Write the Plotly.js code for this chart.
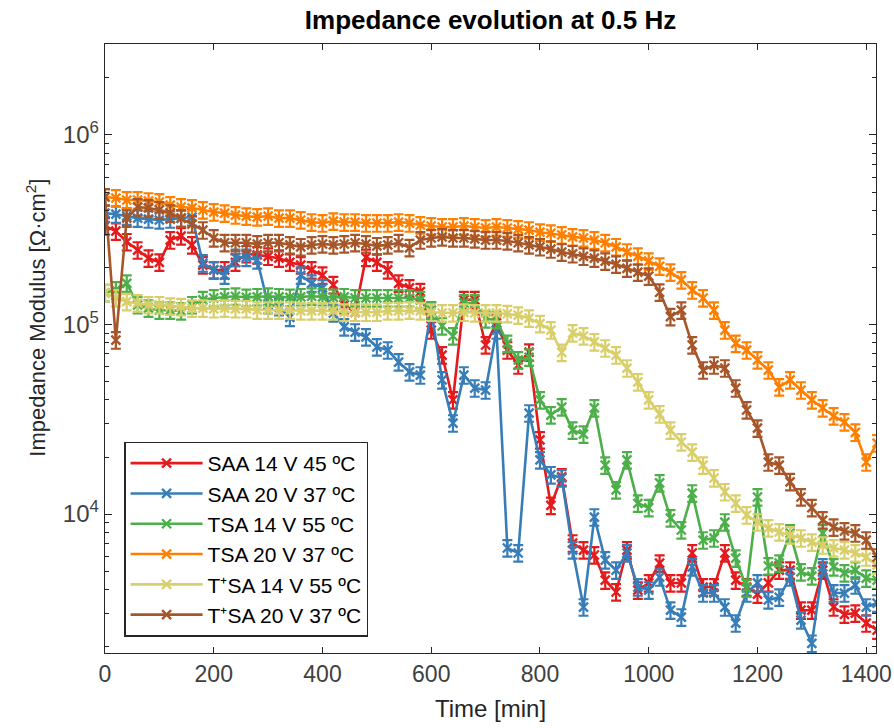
<!DOCTYPE html>
<html>
<head>
<meta charset="utf-8">
<script src="https://cdn.plot.ly/plotly-3.0.1.min.js"></script>
<style>html,body{margin:0;padding:0;background:#fff;}#chart{width:894px;height:728px;}</style>
</head>
<body>
<div id="chart"></div>
<script>
const time = [0,20,40,60,80,100,120,140,160,180,200,220,240,260,280,300,320,340,360,380,
  400,420,440,460,480,500,520,540,560,580,600,620,640,660,680,700,720,740,760,780,
  800,820,840,860,880,900,920,940,960,980,1000,1020,1040,1060,1080,1100,1120,1140,1160,1180,
  1200,1220,1240,1260,1280,1300,1320,1340,1360,1380,1400,1420];

const names = ["SAA 14 V 45 ºC","SAA 20 V 37 ºC","TSA 14 V 55 ºC","TSA 20 V 37 ºC","T\u207aSA 14 V 55 ºC","T\u207aSA 20 V 37 ºC"];
const colors = ["#e41a1c","#377eb8","#4daf4a","#ff7f00","#d9cf6a","#a65628"];

const saa14 = [3.31e5,3.11e5,2.73e5,2.47e5,2.24e5,2.13e5,2.79e5,2.93e5,2.63e5,2.06e5,
  1.94e5,1.94e5,2.13e5,2.36e5,2.33e5,2.29e5,2.24e5,2.13e5,2.06e5,1.94e5,
  1.82e5,1.62e5,1.27e5,1.16e5,2.26e5,2.13e5,1.94e5,1.65e5,1.56e5,1.49e5,
  9.35e4,6.90e4,4.00e4,1.35e5,1.35e5,7.80e4,1.02e5,7.33e4,6.11e4,7.15e4,
  2.46e4,1.11e4,1.57e4,7.03e3,6.46e3,6.08e3,4.48e3,3.88e3,6.46e3,3.97e3,
  4.33e3,5.51e3,4.33e3,4.33e3,6.23e3,4.12e3,4.12e3,6.23e3,4.48e3,4.12e3,
  3.78e3,4.33e3,5.06e3,5.06e3,3.11e3,3.11e3,5.06e3,3.23e3,2.96e3,3.00e3,
  2.66e3,2.44e3];

const saa20 = [3.87e5,3.82e5,3.73e5,3.64e5,3.60e5,3.56e5,3.60e5,3.64e5,3.69e5,2.11e5,
  1.94e5,1.82e5,2.26e5,2.26e5,2.19e5,1.27e5,1.24e5,1.09e5,1.82e5,1.65e5,
  1.56e5,1.15e5,9.71e4,9.12e4,8.60e4,7.61e4,7.33e4,6.34e4,5.62e4,5.41e4,
  1.19e5,5.10e4,3.02e4,5.41e4,4.62e4,4.51e4,9.35e4,6.62e3,6.23e3,3.41e4,
  1.93e4,1.61e4,1.55e4,6.46e3,3.23e3,9.64e3,5.72e3,5.06e3,6.23e3,4.12e3,
  3.97e3,4.65e3,3.11e3,2.86e3,5.26e3,3.83e3,3.83e3,3.23e3,2.66e3,3.83e3,
  4.33e3,3.52e3,3.64e3,4.65e3,2.76e3,2.08e3,5.26e3,3.83e3,3.83e3,4.22e3,
  3.23e3,3.39e3];

const tsa14 = [1.47e5,1.52e5,1.65e5,1.27e5,1.22e5,1.19e5,1.19e5,1.18e5,1.27e5,1.35e5,
  1.38e5,1.40e5,1.41e5,1.39e5,1.40e5,1.41e5,1.40e5,1.39e5,1.40e5,1.41e5,
  1.40e5,1.39e5,1.40e5,1.38e5,1.38e5,1.38e5,1.38e5,1.38e5,1.38e5,1.35e5,
  1.19e5,9.82e4,8.70e4,1.30e5,1.30e5,1.07e5,1.06e5,7.95e4,6.50e4,6.72e4,
  4.00e4,3.33e4,3.67e4,2.77e4,2.64e4,3.63e4,1.81e4,1.34e4,1.93e4,1.14e4,
  1.08e4,1.46e4,9.53e3,8.24e3,1.29e4,7.29e3,7.47e3,9.07e3,5.85e3,4.07e3,
  1.23e4,5.32e3,5.51e3,7.94e3,4.95e3,4.71e3,7.94e3,5.26e3,4.89e3,5.06e3,
  4.59e3,4.48e3];

const tsa20 = [4.71e5,4.65e5,4.54e5,4.54e5,4.48e5,4.43e5,4.27e5,4.17e5,4.12e5,4.02e5,
  3.92e5,3.87e5,3.78e5,3.73e5,3.69e5,3.73e5,3.64e5,3.64e5,3.56e5,3.47e5,
  3.43e5,3.51e5,3.47e5,3.47e5,3.43e5,3.43e5,3.43e5,3.47e5,3.43e5,3.35e5,
  3.31e5,3.27e5,3.27e5,3.31e5,3.27e5,3.23e5,3.27e5,3.23e5,3.19e5,3.15e5,
  3.07e5,3.03e5,2.97e5,2.90e5,2.86e5,2.79e5,2.70e5,2.57e5,2.41e5,2.29e5,
  2.16e5,2.03e5,1.89e5,1.72e5,1.52e5,1.38e5,1.19e5,9.35e4,7.95e4,7.33e4,
  6.50e4,5.75e4,4.68e4,5.10e4,4.51e4,4.00e4,3.63e4,3.29e4,3.06e4,2.70e4,
  1.88e4,2.37e4];

const tpsa14 = [1.47e5,1.38e5,1.32e5,1.30e5,1.27e5,1.27e5,1.25e5,1.24e5,1.22e5,1.22e5,
  1.21e5,1.22e5,1.21e5,1.21e5,1.19e5,1.19e5,1.19e5,1.19e5,1.18e5,1.18e5,
  1.18e5,1.18e5,1.16e5,1.16e5,1.16e5,1.16e5,1.18e5,1.18e5,1.19e5,1.18e5,
  1.16e5,1.15e5,1.15e5,1.16e5,1.15e5,1.15e5,1.15e5,1.14e5,1.12e5,1.08e5,
  1.01e5,9.35e4,7.12e4,9.02e4,8.70e4,8.10e4,7.51e4,6.90e4,5.89e4,4.98e4,
  4.00e4,3.37e4,2.77e4,2.40e4,2.12e4,1.81e4,1.55e4,1.31e4,1.14e4,9.88e3,
  9.07e3,8.44e3,8.04e3,7.75e3,7.47e3,7.11e3,6.86e3,6.62e3,6.46e3,6.23e3,
  5.93e3,5.38e3];

const tpsa20 = [4.71e5,8.28e4,3.64e5,4.17e5,4.12e5,4.02e5,3.87e5,3.64e5,3.39e5,3.15e5,
  2.86e5,2.70e5,2.70e5,2.70e5,2.66e5,2.70e5,2.70e5,2.63e5,2.57e5,2.63e5,
  2.66e5,2.63e5,2.66e5,2.70e5,2.66e5,2.60e5,2.63e5,2.70e5,2.54e5,2.79e5,
  2.86e5,2.90e5,2.86e5,2.86e5,2.83e5,2.79e5,2.79e5,2.76e5,2.70e5,2.63e5,
  2.57e5,2.50e5,2.41e5,2.36e5,2.29e5,2.24e5,2.16e5,2.08e5,1.98e5,1.89e5,
  1.80e5,1.48e5,1.10e5,1.19e5,7.80e4,5.75e4,6.11e4,5.89e4,4.62e4,3.54e4,
  2.84e4,1.88e4,1.81e4,1.48e4,1.23e4,1.08e4,9.30e3,8.53e3,8.14e3,7.94e3,
  7.29e3,5.93e3];

const errPercent = [10, 10, 10, 10, 10, 10];

const series = [saa14, saa20, tsa14, tsa20, tpsa14, tpsa20];

const traces = series.map((ys, i) => ({
  type: 'scatter',
  mode: 'lines+markers',
  x: time,
  y: ys,
  name: names[i],
  line: {color: colors[i], width: 2.6},
  marker: {symbol: 'x-thin', size: 9, color: colors[i], line: {color: colors[i], width: 2.4}},
  error_y: {type: 'percent', value: errPercent[i], visible: true, color: colors[i], thickness: 2.2, width: 5}
}));

const minorVals = [];
for (let d = 3; d <= 6; d++) {
  for (let m = 2; m <= 9; m++) minorVals.push(m * Math.pow(10, d));
}

const fontFam = 'Liberation Sans, Arial, sans-serif';

const layout = {
  width: 894, height: 728,
  margin: {l: 105, r: 18, t: 44, b: 75},
  paper_bgcolor: '#ffffff',
  plot_bgcolor: '#ffffff',
  font: {family: fontFam, color: '#262626'},
  title: {text: '<b>Impedance evolution at 0.5 Hz</b>', x: 0.5, xref: 'paper', y: 0.972, yanchor: 'middle',
          font: {family: fontFam, size: 26, color: '#000000'}},
  showlegend: true,
  legend: {x: 0.025, y: 0.347, xanchor: 'left', yanchor: 'top',
           bgcolor: '#ffffff', bordercolor: '#262626', borderwidth: 1.3,
           font: {family: fontFam, size: 21, color: '#000000'}, itemwidth: 72},
  xaxis: {
    range: [0, 1418], tickvals: [0,200,400,600,800,1000,1200,1400],
    ticks: 'inside', ticklen: 6, tickcolor: '#262626', tickwidth: 1,
    showline: true, linecolor: '#262626', linewidth: 1.3, mirror: 'ticks',
    showgrid: false, zeroline: false,
    tickfont: {family: fontFam, size: 23, color: '#404040'},
    title: {text: 'Time [min]', font: {family: fontFam, size: 24, color: '#262626'}, standoff: 14}
  },
  yaxis: {
    type: 'log', range: [3.267, 6.48],
    tickvals: [1e4, 1e5, 1e6], ticktext: ['10<sup>4</sup>','10<sup>5</sup>','10<sup>6</sup>'],
    ticks: 'inside', ticklen: 7, tickcolor: '#262626', tickwidth: 1,
    ticklabelstandoff: 0,
    minor: {tickvals: minorVals, ticks: 'inside', ticklen: 4, tickcolor: '#262626', showgrid: false},
    showline: true, linecolor: '#262626', linewidth: 1.3, mirror: 'ticks',
    showgrid: false, zeroline: false,
    tickfont: {family: fontFam, size: 24, color: '#404040'}
  },
  annotations: [{
    text: 'Impedance Modulus [\u03A9\u00B7cm<sup>2</sup>]',
    xref: 'paper', yref: 'paper', x: -0.09, y: 0.55,
    xanchor: 'center', yanchor: 'middle', textangle: -90, showarrow: false,
    font: {family: fontFam, size: 22, color: '#262626'}
  }]
};

Plotly.newPlot('chart', traces, layout, {displayModeBar: false, staticPlot: true});
</script>
</body>
</html>
